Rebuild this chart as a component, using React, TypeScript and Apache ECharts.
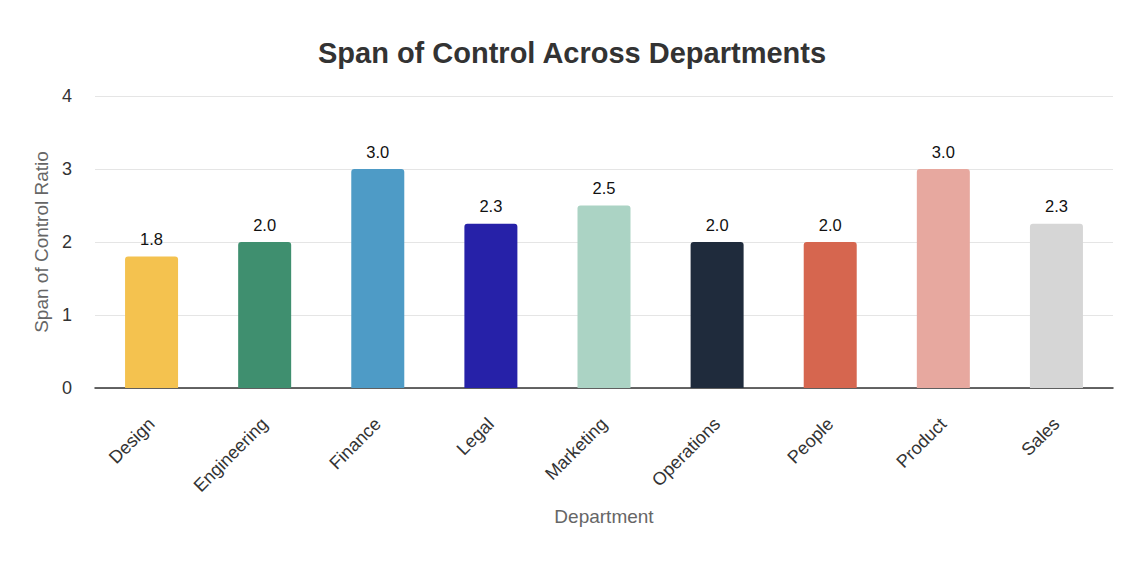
import React, { useEffect, useRef } from "react";
import * as echarts from "echarts";

const categories = ["Design", "Engineering", "Finance", "Legal", "Marketing", "Operations", "People", "Product", "Sales"];
const values = [1.8, 2.0, 3.0, 2.25, 2.5, 2.0, 2.0, 3.0, 2.25];
const colors = ["#F4C24F", "#3F8F6F", "#4E9BC6", "#2621A8", "#ABD3C4", "#1F2B3C", "#D6664F", "#E7A89F", "#D6D6D6"];
const yTicks = [0, 1, 2, 3, 4];

export default function App() {
  const ref = useRef<HTMLDivElement>(null);
  useEffect(() => {
    if (!ref.current) return;
    const chart = echarts.init(ref.current, null, { renderer: "svg" });
    const font = "'Liberation Sans', Arial, Helvetica, sans-serif";
    chart.setOption({
      animation: false,
      textStyle: { fontFamily: font },
      title: {
        text: "Span of Control Across Departments",
        left: "center",
        top: 25,
        textStyle: { fontSize: 29, fontWeight: "bold", color: "#333333", fontFamily: font },
      },
      grid: { left: 87, right: 23, top: 88, bottom: 178, containLabel: false },
      xAxis: {
        type: "category",
        data: categories,
        name: "Department",
        nameLocation: "middle",
        nameGap: 119,
        nameTextStyle: { fontSize: 19, color: "#666666", fontFamily: font },
        axisLine: { lineStyle: { color: "#333333", width: 1.5 } },
        axisTick: { show: false },
        axisLabel: { rotate: 45, fontSize: 18, color: "#333333", margin: 33, interval: 0, fontFamily: font },
      },
      yAxis: {
        type: "value",
        min: yTicks[0],
        max: yTicks[yTicks.length - 1],
        interval: 1,
        name: "Span of Control Ratio",
        nameLocation: "middle",
        nameGap: 41,
        nameTextStyle: { fontSize: 19, color: "#666666", fontFamily: font },
        axisLine: { show: false },
        axisTick: { show: false },
        axisLabel: { fontSize: 18, color: "#333333", margin: 23, fontFamily: font },
        splitLine: { lineStyle: { color: "#E5E5E5", width: 1 } },
      },
      series: [
        {
          type: "bar",
          barWidth: 53,
          data: values.map((v, i) => ({ value: v, itemStyle: { color: colors[i], borderRadius: [3, 3, 0, 0] } })),
          label: {
            show: true,
            position: "top",
            distance: 9,
            fontSize: 16.5,
            color: "#111111",
            fontFamily: font,
            formatter: (p: any) => Number(p.value).toFixed(1),
          },
        },
      ],
    });
    return () => chart.dispose();
  }, []);
  return <div ref={ref} style={{ width: 1128, height: 558 }} />;
}
